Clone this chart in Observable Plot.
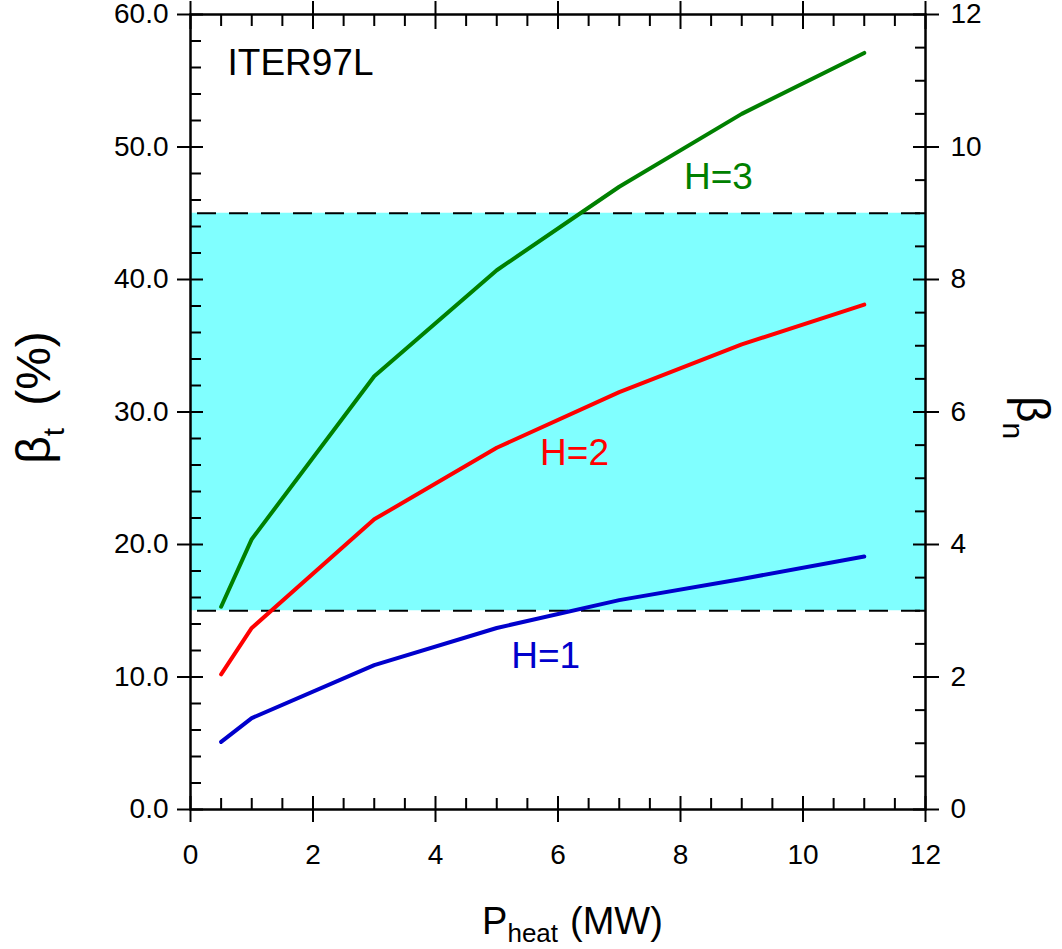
<!DOCTYPE html>
<html><head><meta charset="utf-8">
<script src="https://cdn.jsdelivr.net/npm/d3@7"></script>
<script src="https://cdn.jsdelivr.net/npm/@observablehq/plot@0.6"></script>
<style>body{margin:0;background:#fff} svg{display:block}</style>
</head><body><div id="chart"></div>
<script>
// ---- data ----
const pHeat = [0.5, 1, 3, 5, 7, 9, 11];
const betaH1 = [5.1, 6.9, 10.9, 13.7, 15.8, 17.4, 19.1];
const betaH2 = [10.2, 13.7, 21.9, 27.3, 31.5, 35.1, 38.1];
const betaH3 = [15.3, 20.4, 32.7, 40.7, 47.0, 52.5, 57.1];
const seriesNames = ["H=1", "H=2", "H=3"];
const seriesValues = [betaH1, betaH2, betaH3];
const seriesColors = ["#0000cc", "#ff0000", "#008000"];
const bandLimits = [15, 45];
const labelP = [5.8, 6.27, 8.62];
const labelBeta = [11.6, 26.9, 47.7];
const modelName = "ITER97L";
const xTicks = [0, 2, 4, 6, 8, 10, 12];
const xMinorTicks = [0.5,1,1.5,2.5,3,3.5,4.5,5,5.5,6.5,7,7.5,8.5,9,9.5,10.5,11,11.5];
const yTicks = [0, 10, 20, 30, 40, 50, 60];
const yMinorTicks = [2,4,6,8,12,14,16,18,22,24,26,28,32,34,36,38,42,44,46,48,52,54,56,58];
const betaNPerBetaT = 1 / 5;
const yRightMinorTicks = [2.5,5,7.5,12.5,15,17.5,22.5,25,27.5,32.5,35,37.5,42.5,45,47.5,52.5,55,57.5];

// ---- build tables ----
const lineData = seriesNames.flatMap((s, j) => pHeat.map((p, i) => ({p, beta: seriesValues[j][i], series: s})));
const labelData = seriesNames.map((s, j) => ({p: labelP[j], beta: labelBeta[j], series: s}));

const font = "'Liberation Sans', Arial, Helvetica, sans-serif";
const chart = Plot.plot({
  width: 1062, height: 949,
  marginLeft: 190, marginRight: 137, marginTop: 14, marginBottom: 140,
  x: {domain: [0, 12]},
  y: {domain: [0, 60]},
  color: {domain: seriesNames, range: seriesColors},
  style: {fontFamily: font, fontSize: "28px", color: "black", background: "white", overflow: "visible"},
  marks: [
    Plot.rect([bandLimits], {y1: d => d[0], y2: d => d[1], fill: "#80ffff"}),
    Plot.ruleY(bandLimits, {stroke: "black", strokeWidth: 2, strokeDasharray: "19,13", strokeDashoffset: -7}),
    Plot.line(lineData, {x: "p", y: "beta", z: "series", stroke: "series", strokeWidth: 4}),
    Plot.text(labelData, {x: "p", y: "beta", text: "series", fill: "series", fontSize: 37}),
    Plot.text([modelName], {frameAnchor: "top-left", dx: 37, dy: 34, textAnchor: "start", lineAnchor: "top", fontSize: 37, fill: "black"}),
    // left axis
    Plot.axisY(yTicks, {anchor: "left", tickSize: 13, tickPadding: 9, tickFormat: d3.format(".1f"), strokeWidth: 2, label: null}),
    Plot.axisY(yTicks, {anchor: "left", tickSize: -13, fill: "none", strokeWidth: 2, label: null}),
    Plot.axisY(yMinorTicks, {anchor: "left", tickSize: -11, fill: "none", strokeWidth: 2, label: null}),
    // right axis
    Plot.axisY(yTicks, {anchor: "right", tickSize: 13, tickPadding: 12, tickFormat: d => d3.format("d")(d * betaNPerBetaT), strokeWidth: 2, label: null}),
    Plot.axisY(yTicks, {anchor: "right", tickSize: -13, fill: "none", strokeWidth: 2, label: null}),
    Plot.axisY(yRightMinorTicks, {anchor: "right", tickSize: -11, fill: "none", strokeWidth: 2, label: null}),
    // bottom axis
    Plot.axisX(xTicks, {anchor: "bottom", tickSize: 13, tickPadding: 22, tickFormat: d3.format("d"), strokeWidth: 2, label: null}),
    Plot.axisX(xTicks, {anchor: "bottom", tickSize: -13, fill: "none", strokeWidth: 2, label: null}),
    Plot.axisX(xMinorTicks, {anchor: "bottom", tickSize: -11, fill: "none", strokeWidth: 2, label: null}),
    // top axis
    Plot.axisX(xTicks, {anchor: "top", tickSize: 14, fill: "none", strokeWidth: 2, label: null}),
    Plot.axisX(xTicks, {anchor: "top", tickSize: -14, fill: "none", strokeWidth: 2, label: null}),
    Plot.axisX(xMinorTicks, {anchor: "top", tickSize: -11, fill: "none", strokeWidth: 2, label: null}),
    Plot.frame({stroke: "black", strokeWidth: 2.5})
  ]
});
document.getElementById("chart").appendChild(chart);

// ---- axis titles with subscripts ----
const svg = d3.select(chart);
const xs = chart.scale("x"), ys = chart.scale("y");
const xMid = (xs.apply(0) + xs.apply(12)) / 2;
const yMid = (ys.apply(0) + ys.apply(60)) / 2;

const xl = svg.append("text")
  .attr("x", xMid + 15).attr("y", ys.apply(0) + 125)
  .attr("text-anchor", "middle").attr("font-size", 38).attr("fill", "black").attr("font-family", font);
xl.append("tspan").text("P");
xl.append("tspan").attr("font-size", 26).attr("dy", 8).text("heat");
xl.append("tspan").attr("dy", -8).attr("dx", 12).text("(MW)");

const yl = svg.append("text")
  .attr("transform", `translate(${xs.apply(0) - 140},${yMid - 14}) rotate(-90)`)
  .attr("text-anchor", "middle").attr("font-size", 48).attr("fill", "black").attr("font-family", font);
yl.append("tspan").text("β");
yl.append("tspan").attr("font-size", 30).attr("dy", 14).text("t");
yl.append("tspan").attr("dy", -14).attr("dx", 22).text("(%)");

const yr = svg.append("text")
  .attr("transform", `translate(${xs.apply(12) + 92},${yMid + 6}) rotate(90)`)
  .attr("text-anchor", "middle").attr("font-size", 46).attr("fill", "black").attr("font-family", font);
yr.append("tspan").text("β");
yr.append("tspan").attr("font-size", 30).attr("dy", 14).text("n");
</script>
</body></html>
